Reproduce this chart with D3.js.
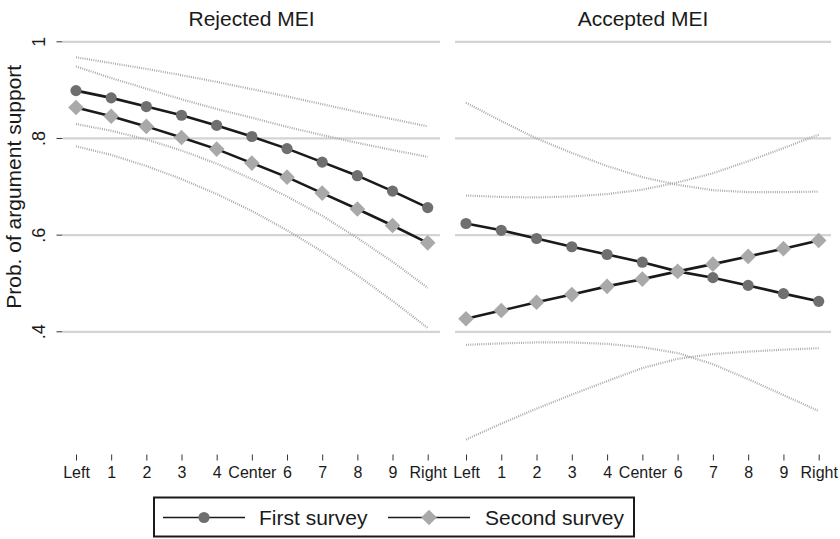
<!DOCTYPE html>
<html>
<head>
<meta charset="utf-8">
<script src="https://cdn.jsdelivr.net/npm/d3@7"></script>
<style>
  body { margin: 0; background: #fff; }
  text { font-family: "Liberation Sans", Arial, Helvetica, sans-serif; fill: #1a1a1a; }
</style>
</head>
<body>
<div id="chart"></div>
<script>
// Categories and tick labels
const positions = ['Left', '1', '2', '3', '4', 'Center', '6', '7', '8', '9', 'Right']
const panelTitles = ['Rejected MEI', 'Accepted MEI']
const yTicks = [0.4, 0.6, 0.8, 1]
const yTickLabels = ['.4', '.6', '.8', '1']
const seriesNames = ['First survey', 'Second survey']

// Rejected MEI
const rejectedFirst = [.899, .884, .866, .848, .827, .804, .779, .751, .723, .691, .657]
const rejectedFirstHi = [.968, .956, .944, .931, .917, .902, .887, .871, .855, .840, .825]
const rejectedFirstLo = [.830, .816, .798, .775, .748, .716, .680, .640, .594, .545, .491]
const rejectedSecond = [.864, .846, .825, .802, .778, .749, .720, .687, .654, .620, .584]
const rejectedSecondHi = [.949, .925, .903, .881, .861, .843, .824, .807, .791, .776, .762]
const rejectedSecondLo = [.784, .766, .743, .716, .685, .650, .610, .566, .517, .464, .408]

// Accepted MEI
const acceptedFirst = [.624, .610, .593, .576, .560, .544, .525, .512, .496, .479, .463]
const acceptedFirstHi = [.874, .836, .800, .770, .743, .720, .704, .693, .689, .689, .690]
const acceptedFirstLo = [.373, .376, .378, .378, .375, .368, .356, .333, .302, .269, .236]
const acceptedSecond = [.427, .444, .461, .477, .494, .509, .525, .540, .556, .572, .589]
const acceptedSecondHi = [.682, .679, .678, .680, .685, .694, .709, .728, .753, .780, .808]
const acceptedSecondLo = [.177, .210, .241, .270, .298, .325, .344, .354, .359, .363, .366]

const panels = [
  {
    title: panelTitles[0],
    means: [rejectedFirst, rejectedSecond],
    bands: [rejectedFirstHi, rejectedFirstLo, rejectedSecondHi, rejectedSecondLo]
  },
  {
    title: panelTitles[1],
    means: [acceptedFirst, acceptedSecond],
    bands: [acceptedFirstHi, acceptedFirstLo, acceptedSecondHi, acceptedSecondLo]
  }
]

const width = 840
const height = 539
const panelBox = [[63, 440], [455, 831]]
const pointRange = [[76, 427.7], [466, 818.7]]

const markerFill = ['#6f6f6f', '#a9a9a9']

const svg = d3.select('#chart').append('svg')
  .attr('width', width)
  .attr('height', height)

const y = d3.scaleLinear().domain([0.4, 1]).range([331.8, 41.8])

const circle = d3.symbol().type(d3.symbolCircle).size(98)
const diamond = d3.symbol().type(d3.symbolDiamond2).size(155)

panels.forEach((p, k) => {
  const x = d3.scalePoint().domain(positions).range(pointRange[k])
  const g = svg.append('g')

  // gridlines
  g.selectAll('.grid')
    .data(yTicks)
    .join('line')
    .attr('class', 'grid')
    .attr('x1', panelBox[k][0])
    .attr('x2', panelBox[k][1])
    .attr('y1', d => y(d))
    .attr('y2', d => y(d))
    .style('stroke', '#d4d4d4')
    .style('stroke-width', 2.2)

  // title
  g.append('text')
    .attr('x', (panelBox[k][0] + panelBox[k][1]) / 2)
    .attr('y', 26)
    .attr('text-anchor', 'middle')
    .style('font-size', '21px')
    .text(p.title)

  // x axis ticks and labels
  const xAxis = d3.axisBottom(x).tickSize(6).tickPadding(4)
  const ax = g.append('g')
    .attr('transform', 'translate(0,454.5)')
    .call(xAxis)
  ax.select('.domain').remove()
  ax.selectAll('.tick line').style('stroke', '#333').style('stroke-width', 1)
  ax.selectAll('.tick text')
    .attr('y', 0)
    .attr('dy', null)
    .attr('transform', 'translate(0,23.5)')
    .style('font-size', '16px')
    .style('font-family', '"Liberation Sans", Arial, sans-serif')
    .style('fill', '#1a1a1a')

  const line = d3.line()
    .x((d, i) => x(positions[i]))
    .y(d => y(d))

  // confidence bands (dotted)
  g.selectAll('.band')
    .data(p.bands)
    .join('path')
    .attr('class', 'band')
    .attr('d', line)
    .style('fill', 'none')
    .style('stroke', '#a3a3a3')
    .style('stroke-width', 2.2)
    .style('stroke-dasharray', '0.9,1.3')

  // connected lines
  g.selectAll('.mean')
    .data(p.means)
    .join('path')
    .attr('class', 'mean')
    .attr('d', line)
    .style('fill', 'none')
    .style('stroke', '#1a1a1a')
    .style('stroke-width', 2.6)

  // markers
  p.means.forEach((s, j) => {
    g.selectAll(`.m${j}`)
      .data(s)
      .join('path')
      .attr('class', `m${j}`)
      .attr('transform', (d, i) => `translate(${x(positions[i])},${y(d)})`)
      .attr('d', j === 0 ? circle() : diamond())
      .style('fill', markerFill[j])
  })
})

// y axis (left panel only)
const yAxis = svg.append('g')
yAxis.selectAll('.ytick')
  .data(yTicks)
  .join('line')
  .attr('x1', 56.5)
  .attr('x2', 62.5)
  .attr('y1', d => y(d))
  .attr('y2', d => y(d))
  .style('stroke', '#333')
  .style('stroke-width', 1)

yAxis.selectAll('.ylab')
  .data(yTicks)
  .join('text')
  .attr('transform', d => `translate(45,${y(d)}) rotate(-90)`)
  .attr('text-anchor', 'middle')
  .style('font-size', '18px')
  .text((d, i) => yTickLabels[i])

svg.append('text')
  .attr('transform', `translate(21,${(y(1) + y(0.4)) / 2}) rotate(-90)`)
  .attr('text-anchor', 'middle')
  .style('font-size', '21px')
  .text('Prob. of argument support')

// legend
const legend = svg.append('g')
legend.append('rect')
  .attr('x', 154)
  .attr('y', 497.5)
  .attr('width', 480)
  .attr('height', 39)
  .style('fill', '#fff')
  .style('stroke', '#1a1a1a')
  .style('stroke-width', 2)

const legendItems = [
  { x0: 163, x1: 245, text: 259 },
  { x0: 388, x1: 470, text: 485 }
]
legendItems.forEach((it, j) => {
  const ly = 517.5
  legend.append('line')
    .attr('x1', it.x0).attr('x2', it.x1)
    .attr('y1', ly).attr('y2', ly)
    .style('stroke', '#1a1a1a')
    .style('stroke-width', 1.6)
  legend.append('path')
    .attr('transform', `translate(${(it.x0 + it.x1) / 2},${ly})`)
    .attr('d', j === 0 ? circle() : diamond())
    .style('fill', markerFill[j])
  legend.append('text')
    .attr('x', it.text)
    .attr('y', ly + 7.5)
    .style('font-size', '21px')
    .text(seriesNames[j])
})
</script>
</body>
</html>
